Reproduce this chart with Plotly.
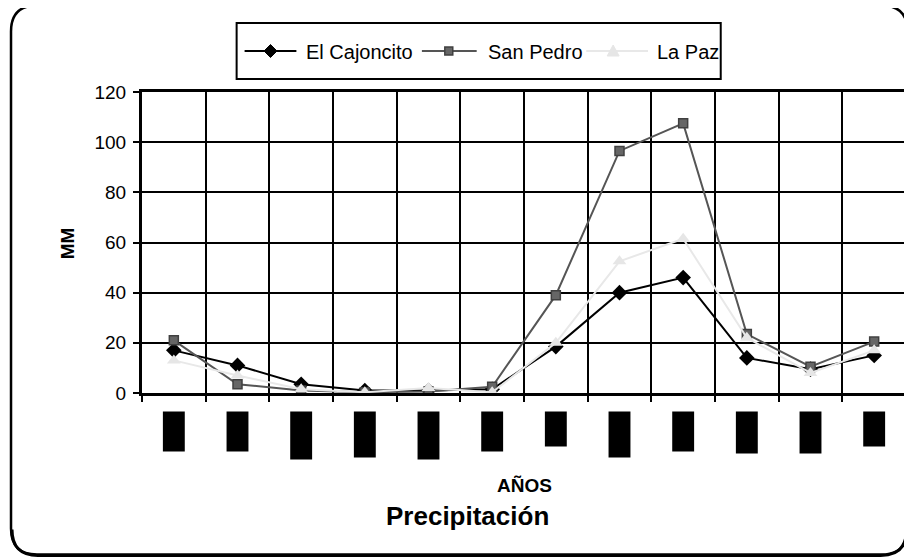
import plotly.graph_objects as go

# ---- data ----
categories = ["Ene", "Feb", "Mar", "Abr", "May", "Jun",
              "Jul", "Ago", "Sep", "Oct", "Nov", "Dic"]
el_cajoncito = [17, 11, 3.5, 1, 1, 1.5, 18.5, 40, 46, 14, 9.5, 15]
san_pedro = [21, 3.5, 1, 0.3, 0.6, 2.5, 39, 96.5, 107.5, 23.5, 10.5, 20.5]
la_paz = [13, 7, 1.5, 0.3, 2, 0.3, 20, 52.5, 61.5, 22, 8, 17]
series_names = ["El Cajoncito", "San Pedro", "La Paz"]
# redacted tick-label blocks (heights in px)
label_block_heights = [40, 40, 48, 46, 48, 40, 35, 46, 40, 42, 42, 35]

# page has an 8px body margin; work in screen pixels and convert
OFF = 8
W, H = 912 - OFF, 559 - OFF
SX0, SX1, SY0, SY1 = 142, 909, 92, 393
ML, MR = SX0 - OFF, (W + OFF) - SX1
MT, MB = SY0 - OFF, (H + OFF) - SY1
PW = SX1 - SX0
PH = SY1 - SY0


def px(x):
    return (x - SX0) / PW


def py(y):
    return (SY1 - y) / PH


FONT = "Liberation Sans, Arial, sans-serif"
C1, C2, C3 = "black", "#555555", "#e8e8e8"

fig = go.Figure()
fig.add_trace(go.Scatter(
    x=categories, y=el_cajoncito, name=series_names[0], mode="lines+markers",
    line=dict(color=C1, width=2),
    marker=dict(symbol="diamond", size=12, color="black"),
))
fig.add_trace(go.Scatter(
    x=categories, y=san_pedro, name=series_names[1], mode="lines+markers",
    line=dict(color=C2, width=2),
    marker=dict(symbol="square", size=9, color="#666666",
                line=dict(color="#404040", width=1.5)),
))
fig.add_trace(go.Scatter(
    x=categories, y=la_paz, name=series_names[2], mode="lines+markers",
    line=dict(color=C3, width=2),
    marker=dict(symbol="triangle-up", size=12, color="#e6e6e6"),
))

shapes = []
annotations = []
# redacted x tick labels as black blocks
for i, h in enumerate(label_block_heights):
    shapes.append(dict(type="rect", xref="x", yref="paper",
                       x0=i - 0.172, x1=i + 0.172,
                       y0=py(411.5), y1=py(411.5 + h),
                       fillcolor="black", line=dict(width=0)))

# ---- legend (drawn manually to match long sample lines) ----
shapes.append(dict(type="rect", xref="paper", yref="paper",
                   x0=px(237), x1=px(723), y0=py(23), y1=py(79),
                   line=dict(color="black", width=2), fillcolor="rgba(0,0,0,0)"))
LY = 51
leg_items = [(245, 297, 271, 305, C1), (423, 478, 450, 487, C2), (588, 650, 615, 657, C3)]
for (lx0, lx1, mx, tx, col), name in zip(leg_items, series_names):
    shapes.append(dict(type="line", xref="paper", yref="paper",
                       x0=px(lx0), x1=px(lx1), y0=py(LY), y1=py(LY),
                       line=dict(color=col, width=2)))
    annotations.append(dict(text=name, xref="paper", yref="paper", x=px(tx), y=py(LY + 1),
                            showarrow=False, xanchor="left", yanchor="middle",
                            font=dict(size=20, family=FONT, color="black")))
mx = leg_items[0][2]
shapes.append(dict(type="path", xref="paper", yref="paper",
                   path=(f"M {px(mx)},{py(LY - 6.5)} L {px(mx + 6.5)},{py(LY)} "
                         f"L {px(mx)},{py(LY + 6.5)} L {px(mx - 6.5)},{py(LY)} Z"),
                   fillcolor="black", line=dict(color="black", width=1)))
mx = leg_items[1][2]
shapes.append(dict(type="rect", xref="paper", yref="paper",
                   x0=px(mx - 4), x1=px(mx + 4), y0=py(LY - 4), y1=py(LY + 4),
                   fillcolor="#666666", line=dict(color="#404040", width=1.5)))
mx = leg_items[2][2]
shapes.append(dict(type="path", xref="paper", yref="paper",
                   path=(f"M {px(mx)},{py(LY - 6)} L {px(mx + 6)},{py(LY + 5)} "
                         f"L {px(mx - 6)},{py(LY + 5)} Z"),
                   fillcolor="#e6e6e6", line=dict(color="#e6e6e6", width=1)))


def rounded_path(x0, y0, x1, y1, r):
    pts = []
    pts.append(f"M {px(x0 + r)},{py(y0)}")
    pts.append(f"L {px(x1 - r)},{py(y0)}")
    pts.append(f"Q {px(x1)},{py(y0)} {px(x1)},{py(y0 + r)}")
    pts.append(f"L {px(x1)},{py(y1 - r)}")
    pts.append(f"Q {px(x1)},{py(y1)} {px(x1 - r)},{py(y1)}")
    pts.append(f"L {px(x0 + r)},{py(y1)}")
    pts.append(f"Q {px(x0)},{py(y1)} {px(x0)},{py(y1 - r)}")
    pts.append(f"L {px(x0)},{py(y0 + r)}")
    pts.append(f"Q {px(x0)},{py(y0)} {px(x0 + r)},{py(y0)}")
    pts.append("Z")
    return " ".join(pts)


def bottom_path(x0, y1, x1, r, top):
    pts = [f"M {px(x1)},{py(top)}",
           f"L {px(x1)},{py(y1 - r)}",
           f"Q {px(x1)},{py(y1)} {px(x1 - r)},{py(y1)}",
           f"L {px(x0 + r)},{py(y1)}",
           f"Q {px(x0)},{py(y1)} {px(x0)},{py(y1 - r)}"]
    return " ".join(pts)


shapes.append(dict(type="path", xref="paper", yref="paper",
                   path=rounded_path(10.5, 5.5, 910.5, 554.5, 26),
                   line=dict(color="black", width=2.5)))
shapes.append(dict(type="path", xref="paper", yref="paper",
                   path=bottom_path(11.5, 555.5, 909.5, 26, 520),
                   line=dict(color="black", width=3)))

annotations += [
    dict(text="<b>MM</b>", xref="paper", yref="paper", x=px(67), y=py(243),
         showarrow=False, textangle=-90, font=dict(size=19, family=FONT, color="black"),
         xanchor="center", yanchor="middle"),
    dict(text="<b>AÑOS</b>", xref="paper", yref="paper", x=px(526), y=py(485),
         showarrow=False, font=dict(size=19, family=FONT, color="black"),
         xanchor="center", yanchor="middle"),
    dict(text="<b>Precipitación</b>", xref="paper", yref="paper", x=px(469), y=py(516),
         showarrow=False, font=dict(size=26, family=FONT, color="black"),
         xanchor="center", yanchor="middle"),
]

fig.update_layout(
    width=W, height=H,
    margin=dict(l=ML, r=MR, t=MT, b=MB, pad=0),
    paper_bgcolor="white", plot_bgcolor="white",
    font=dict(family=FONT, size=19, color="black"),
    showlegend=False,
    shapes=shapes,
    annotations=annotations,
)
fig.update_xaxes(
    type="category", tickson="boundaries", showticklabels=False,
    ticks="outside", ticklen=6, tickwidth=2, tickcolor="black",
    showgrid=True, gridcolor="black", gridwidth=2,
    showline=True, linecolor="black", linewidth=3, mirror=True,
    range=[-0.5, 11.5],
)
fig.update_yaxes(
    range=[0, 120], dtick=20, tickfont=dict(size=19, family=FONT, color="black"),
    ticks="outside", ticklen=6, tickwidth=2, tickcolor="black", ticklabelstandoff=3,
    showgrid=True, gridcolor="black", gridwidth=2, zeroline=False,
    showline=True, linecolor="black", linewidth=3, mirror=True,
)

fig.write_html("out.html")
